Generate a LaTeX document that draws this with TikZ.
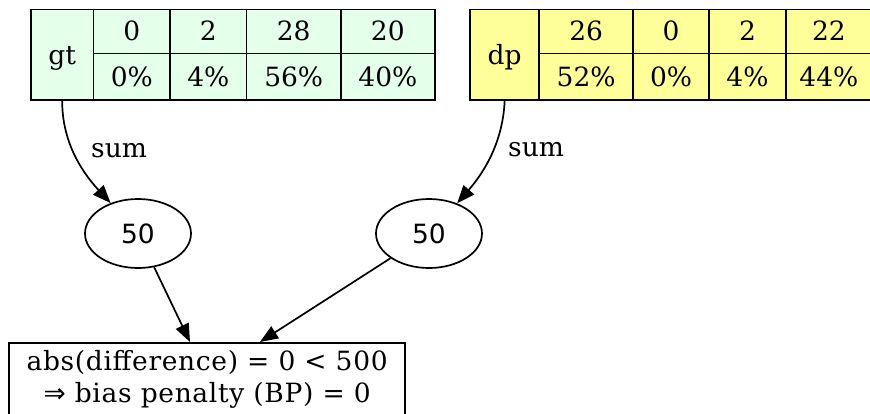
\documentclass[tikz,border=0pt]{standalone}
\usepackage{fontspec}
\setmainfont{DejaVu Serif}
\newfontfamily\dvsans{DejaVu Sans}
\newfontfamily\widerserif[LetterSpace=2.5]{DejaVu Serif}
\usetikzlibrary{arrows.meta,shapes.geometric}
\definecolor{gtfill}{HTML}{E4FFEA}
\definecolor{dpfill}{HTML}{FFFF99}
\tikzset{
  txt/.style={font=\fontsize{26.5}{32}\selectfont},
  cell/.style={txt, draw, line width=1.7pt, rectangle, inner sep=0pt,
    anchor=north west, text height=19pt, text depth=0pt},
  countbox/.style={ellipse, draw, line width=1.7pt, inner sep=0pt,
    minimum width=106pt, minimum height=69pt,
    font=\dvsans\fontsize{26.5}{32}\selectfont},
  resbox/.style={draw, line width=1.7pt, rectangle, inner sep=0pt,
    anchor=north west, minimum width=396pt, minimum height=74pt,
    font=\widerserif\fontsize{26.5}{32}\selectfont},
  edgelabel/.style={txt, inner sep=0pt, anchor=base west},
  link/.style={line width=1.7pt, -{Triangle[length=18pt,width=14pt]}}
}
\begin{document}
\begin{tikzpicture}[x=1pt,y=-1pt]
  \useasboundingbox (0,0) rectangle (870,413);
  \clip (0,0) rectangle (870,413);

  % ground-truth table
  \node[cell, fill=gtfill, minimum width=62.7pt, minimum height=90.5pt] (gtl) at (30,8.5) {gt};
  \node[cell, fill=gtfill, minimum width=76.6pt, minimum height=44.2pt] (gta1) at (92.7,8.5) {0};
  \node[cell, fill=gtfill, minimum width=76.4pt, minimum height=44.2pt] (gta2) at (169.3,8.5) {2};
  \node[cell, fill=gtfill, minimum width=94.3pt, minimum height=44.2pt] (gta3) at (245.7,8.5) {28};
  \node[cell, fill=gtfill, minimum width=94pt, minimum height=44.2pt] (gta4) at (340,8.5) {20};
  \node[cell, fill=gtfill, minimum width=76.6pt, minimum height=46.3pt] (gtb1) at (92.7,52.7) {0\%};
  \node[cell, fill=gtfill, minimum width=76.4pt, minimum height=46.3pt] (gtb2) at (169.3,52.7) {4\%};
  \node[cell, fill=gtfill, minimum width=94.3pt, minimum height=46.3pt] (gtb3) at (245.7,52.7) {56\%};
  \node[cell, fill=gtfill, minimum width=94pt, minimum height=46.3pt] (gtb4) at (340,52.7) {40\%};

  % prediction table
  \node[cell, fill=dpfill, minimum width=69pt, minimum height=90.5pt] (dpl) at (469.3,8.5) {dp};
  \node[cell, fill=dpfill, minimum width=94pt, minimum height=44.2pt] (dpa1) at (538.3,8.5) {26};
  \node[cell, fill=dpfill, minimum width=76pt, minimum height=44.2pt] (dpa2) at (632.3,8.5) {0};
  \node[cell, fill=dpfill, minimum width=76.7pt, minimum height=44.2pt] (dpa3) at (708.3,8.5) {2};
  \node[cell, fill=dpfill, minimum width=86pt, minimum height=44.2pt] (dpa4) at (785,8.5) {22};
  \node[cell, fill=dpfill, minimum width=94pt, minimum height=46.3pt] (dpb1) at (538.3,52.7) {52\%};
  \node[cell, fill=dpfill, minimum width=76pt, minimum height=46.3pt] (dpb2) at (632.3,52.7) {0\%};
  \node[cell, fill=dpfill, minimum width=76.7pt, minimum height=46.3pt] (dpb3) at (708.3,52.7) {4\%};
  \node[cell, fill=dpfill, minimum width=86pt, minimum height=46.3pt] (dpb4) at (785,52.7) {44\%};

  % totals
  \node[countbox] (e1) at (138,233.5) {50};
  \node[countbox] (e2) at (429,233.5) {50};

  % result
  \node[resbox] (res) at (8.3,342)
    {\begin{tabular}{@{}c@{}}abs(difference) = 0 < 500\\{\dvsans ⇒} bias penalty (BP) = 0\end{tabular}};
  \coordinate (t1) at (190,342);
  \coordinate (t2) at (260,342);

  % connectors
  \draw[link] (gtl.south) .. controls (62,140) and (80,170) .. (e1.132);
  \draw[link] (dpl.south) .. controls (503,140) and (486,170) .. (e2.47);
  \node[edgelabel] (s1) at (91,157) {sum};
  \node[edgelabel] (s2) at (508,156) {sum};
  \draw[link] (e1) -- (t1);
  \draw[link] (e2) -- (t2);
\end{tikzpicture}
\end{document}
